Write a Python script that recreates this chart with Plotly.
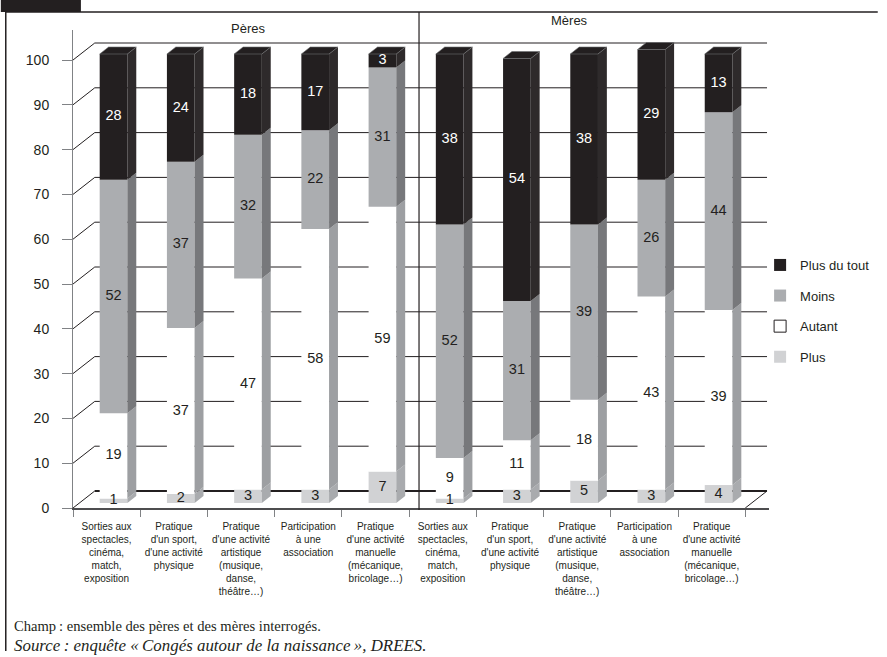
import plotly.graph_objects as go

# ---------------- data ----------------
categories = [
    "Sorties aux<br>spectacles,<br>cinéma,<br>match,<br>exposition",
    "Pratique<br>d'un sport,<br>d'une activité<br>physique",
    "Pratique<br>d'une activité<br>artistique<br>(musique,<br>danse,<br>théâtre…)",
    "Participation<br>à une<br>association",
    "Pratique<br>d'une activité<br>manuelle<br>(mécanique,<br>bricolage…)",
]
groups = ["Pères", "Mères"]
series_names = ["Plus", "Autant", "Moins", "Plus du tout"]
plus = [1, 2, 3, 3, 7, 1, 3, 5, 3, 4]
autant = [19, 37, 47, 58, 59, 9, 11, 18, 43, 39]
moins = [52, 37, 32, 22, 31, 52, 31, 39, 26, 44]
plus_du_tout = [28, 24, 18, 17, 3, 38, 54, 38, 29, 13]
y_ticks = [0, 10, 20, 30, 40, 50, 60, 70, 80, 90, 100]

series_values = [plus, autant, moins, plus_du_tout]
tick_text = categories + categories
n = len(tick_text)
xpos = list(range(n))

# ---------------- style ----------------
W, H = 887, 657
L, R, T, B = 73, 777, 30, 508          # plot area in px
CAT_PX = 68.0                          # px per category
XR = [-0.5, -0.5 + (R - L) / CAT_PX]
BAR_PX_PER_UNIT = 4.49
BAR_ZERO_PX = 503
Y_MAIN = [-(B - BAR_ZERO_PX) / BAR_PX_PER_UNIT, 0]
Y_MAIN[1] = Y_MAIN[0] + (B - T) / BAR_PX_PER_UNIT
TICK_PX_PER_UNIT = 4.48
Y2 = [0, (B - T) / TICK_PX_PER_UNIT]

FRONT_W = 28 / CAT_PX
FRONT_OFF = 7 / CAT_PX - FRONT_W / 2
SIDE_DX = 9 / CAT_PX
SIDE_DY = 7 / BAR_PX_PER_UNIT
DEPTH_X = 22 / CAT_PX
DEPTH_Y = 17 / TICK_PX_PER_UNIT

front_col = {"Plus": "#d1d2d4", "Autant": "#ffffff", "Moins": "#abadb0", "Plus du tout": "#231f20"}
side_col = {"Plus": "#a9abae", "Autant": "#9d9fa2", "Moins": "#77787b", "Plus du tout": "#2e2a2b"}
text_col = {"Plus": "#231f20", "Autant": "#231f20", "Moins": "#231f20", "Plus du tout": "#ffffff"}

FONT = "Liberation Sans, Arial, Helvetica, sans-serif"
SERIF = "Liberation Serif, Times New Roman, serif"


def px_to_paper_x(px):
    return (px - L) / (R - L)


def px_to_paper_y(py):
    return (B - py) / (B - T)


def data_to_paper_x(xd):
    return (xd - XR[0]) / (XR[1] - XR[0])


fig = go.Figure()

# cumulative bases
bases = []
acc = [0] * n
for vals in series_values:
    bases.append(list(acc))
    acc = [a + v for a, v in zip(acc, vals)]
totals = acc

# front faces + side faces
for name, vals, base in zip(series_names, series_values, bases):
    fig.add_trace(go.Bar(
        x=xpos, y=vals, base=base, width=FRONT_W, offset=FRONT_OFF,
        marker=dict(color=front_col[name], line=dict(width=0)),
        showlegend=False, hoverinfo="skip", xaxis="x", yaxis="y",
    ))
    sx, sy = [], []
    for i in range(n):
        xr = i + FRONT_OFF + FRONT_W
        b0, t0 = base[i], base[i] + vals[i]
        sx += [xr, xr + SIDE_DX, xr + SIDE_DX, xr, xr, None]
        sy += [b0, b0 + SIDE_DY, t0 + SIDE_DY, t0, b0, None]
    fig.add_trace(go.Scatter(
        x=sx, y=sy, mode="lines", fill="toself", fillcolor=side_col[name],
        line=dict(width=0, color=side_col[name]), showlegend=False,
        hoverinfo="skip", xaxis="x", yaxis="y",
    ))

# top faces
tx, ty = [], []
for i in range(n):
    xl = i + FRONT_OFF
    xr = xl + FRONT_W
    t0 = totals[i]
    tx += [xl, xl + SIDE_DX, xr + SIDE_DX, xr, xl, None]
    ty += [t0, t0 + SIDE_DY, t0 + SIDE_DY, t0, t0, None]
fig.add_trace(go.Scatter(
    x=tx, y=ty, mode="lines", fill="toself", fillcolor="#231f20",
    line=dict(width=0.6, color="#6d6e71"), showlegend=False, hoverinfo="skip",
    xaxis="x", yaxis="y",
))

# value labels
for name, vals, base in zip(series_names, series_values, bases):
    fig.add_trace(go.Scatter(
        x=[i + FRONT_OFF + FRONT_W / 2 for i in range(n)],
        y=[b + v / 2 for b, v in zip(base, vals)],
        mode="text", text=[str(v) for v in vals],
        textfont=dict(family=FONT, size=14.5, color=text_col[name]),
        showlegend=False, hoverinfo="skip", xaxis="x", yaxis="y",
    ))

# legend entries
for name in reversed(series_names):
    fig.add_trace(go.Bar(
        x=[None], y=[None], name=name, legendgroup=name,
        marker=dict(color=front_col[name],
                    line=dict(width=1 if name == "Autant" else 0, color="#231f20")),
        xaxis="x", yaxis="y",
    ))

# carrier for the front tick axis
fig.add_trace(go.Scatter(x=[None], y=[None], mode="markers", showlegend=False,
                         hoverinfo="skip", xaxis="x", yaxis="y2"))

shapes = []
# back wall gridlines and left diagonals
for v in y_ticks:
    shapes.append(dict(type="line", xref="x", yref="y2", layer="below",
                       x0=XR[0] + DEPTH_X, x1=n - 0.5 + DEPTH_X,
                       y0=v + DEPTH_Y, y1=v + DEPTH_Y,
                       line=dict(color="#231f20", width=2 if v == 0 else 1)))
    shapes.append(dict(type="line", xref="x", yref="y2", layer="below",
                       x0=XR[0], x1=XR[0] + DEPTH_X, y0=v, y1=v + DEPTH_Y,
                       line=dict(color="#231f20", width=1)))
# right floor diagonal
shapes.append(dict(type="line", xref="x", yref="y2", layer="below",
                   x0=n - 0.5, x1=n - 0.5 + DEPTH_X, y0=0, y1=DEPTH_Y,
                   line=dict(color="#231f20", width=1)))
# group divider
div_x = data_to_paper_x(len(categories) - 0.5 + 10 / CAT_PX)
shapes.append(dict(type="line", xref="paper", yref="paper",
                   x0=div_x, x1=div_x, y0=px_to_paper_y(12), y1=px_to_paper_y(510),
                   line=dict(color="#231f20", width=1.2)))
# frame
shapes.append(dict(type="rect", xref="paper", yref="paper",
                   x0=px_to_paper_x(0), x1=px_to_paper_x(81),
                   y0=px_to_paper_y(0), y1=px_to_paper_y(12),
                   fillcolor="#231f20", line=dict(width=0)))
shapes.append(dict(type="line", xref="paper", yref="paper",
                   x0=px_to_paper_x(5), x1=px_to_paper_x(W),
                   y0=px_to_paper_y(12), y1=px_to_paper_y(12),
                   line=dict(color="#231f20", width=1.5)))
shapes.append(dict(type="line", xref="paper", yref="paper",
                   x0=px_to_paper_x(5), x1=px_to_paper_x(5),
                   y0=px_to_paper_y(12), y1=px_to_paper_y(651),
                   line=dict(color="#231f20", width=1.5)))

annotations = [
    dict(text=groups[0], x=px_to_paper_x(250), y=px_to_paper_y(28), xref="paper", yref="paper",
         xanchor="center", yanchor="middle",
         showarrow=False, font=dict(family=FONT, size=13, color="#231f20")),
    dict(text=groups[1], x=px_to_paper_x(575), y=px_to_paper_y(20), xref="paper", yref="paper",
         xanchor="center", yanchor="middle",
         showarrow=False, font=dict(family=FONT, size=13, color="#231f20")),
    dict(text="Champ\u202f: ensemble des pères et des mères interrogés.",
         x=px_to_paper_x(11), y=px_to_paper_y(626), xref="paper", yref="paper",
         xanchor="left", yanchor="middle", showarrow=False,
         font=dict(family=SERIF, size=14.6, color="#231f20")),
    dict(text="<i>Source\u202f: enquête «\u202fCongés autour de la naissance\u202f», DREES.</i>",
         x=px_to_paper_x(11), y=px_to_paper_y(645), xref="paper", yref="paper",
         xanchor="left", yanchor="middle", showarrow=False,
         font=dict(family=SERIF, size=16.9, color="#231f20")),
]

fig.update_layout(
    width=W, height=H,
    margin=dict(l=L, r=W - R, t=T, b=H - B, pad=0),
    paper_bgcolor="white", plot_bgcolor="white",
    barmode="overlay",
    font=dict(family=FONT, color="#231f20"),
    xaxis=dict(
        range=XR, tickmode="array", tickvals=xpos, ticktext=tick_text,
        ticks="", showgrid=False, zeroline=False,
        showline=True, linecolor="#4d4d4f", linewidth=2,
        tickfont=dict(family=FONT, size=10, color="#231f20"),
        ticklabelstandoff=8,
        minor=dict(tickmode="array", tickvals=[k - 0.5 for k in range(n + 1)],
                   ticks="outside", ticklen=7, tickcolor="#808285", tickwidth=1),
    ),
    yaxis=dict(range=Y_MAIN, visible=False, showgrid=False, zeroline=False),
    yaxis2=dict(
        range=Y2, overlaying="y", side="left", anchor="x",
        tickmode="array", tickvals=y_ticks, showgrid=False, zeroline=False,
        ticks="outside", ticklen=10, tickcolor="#808285",
        showline=True, linecolor="#808285", linewidth=1,
        tickfont=dict(family=FONT, size=14, color="#231f20"),
        ticklabelstandoff=10,
    ),
    legend=dict(
        x=px_to_paper_x(768), y=px_to_paper_y(250), xanchor="left", yanchor="top",
        traceorder="grouped", tracegroupgap=10.7, bgcolor="rgba(0,0,0,0)",
        font=dict(family=FONT, size=13, color="#231f20"),
    ),
    shapes=shapes,
    annotations=annotations,
)

fig.write_html("out.html")
